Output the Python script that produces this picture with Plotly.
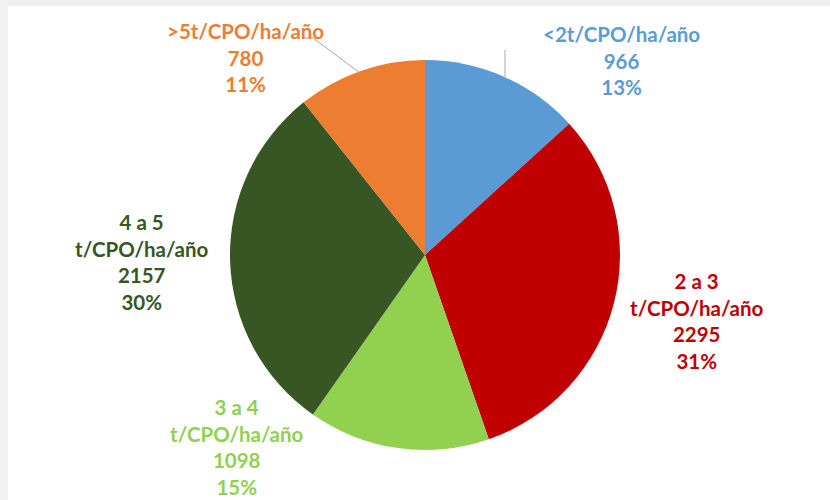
import plotly.graph_objects as go

categories = ["<2t/CPO/ha/año", "2 a 3 t/CPO/ha/año", "3 a 4 t/CPO/ha/año",
              "4 a 5 t/CPO/ha/año", ">5t/CPO/ha/año"]
values = [966, 2295, 1098, 2157, 780]
colors = ["#5B9BD5", "#C00000", "#92D050", "#375623", "#ED7D31"]

W, H = 830, 500
cx, cy, r = 425, 255, 195

fig = go.Figure(go.Pie(
    labels=categories, values=values, sort=False, direction="clockwise",
    rotation=0, textinfo="none", hoverinfo="label+value+percent",
    marker=dict(colors=colors, line=dict(width=0)),
    domain=dict(x=[(cx - r) / W, (cx + r) / W], y=[1 - (cy + r) / H, 1 - (cy - r) / H]),
    showlegend=False,
))

total = sum(values)
label_pos = [(621, 60), (697, 321), (237, 447), (142, 262), (245, 58)]
for cat, v, col, (px, py) in zip(categories, values, colors, label_pos):
    pct = round(v / total * 100)
    txt = cat.replace(" t/", "<br>t/") + f"<br>{v}<br>{pct}%"
    fig.add_annotation(x=px / W, y=1 - py / H, xref="paper", yref="paper",
                       text=f"<b>{txt}</b>", showarrow=False,
                       font=dict(family="Lato", size=20.5, color=col),
                       align="center", xanchor="center", yanchor="middle")

# leader lines
fig.add_shape(type="path", xref="paper", yref="paper",
              path=f"M {302/W} {1-38/H} L {313/W} {1-38/H} L {360/W} {1-73/H}",
              line=dict(color="#A6A6A6", width=1))
fig.add_shape(type="line", xref="paper", yref="paper",
              x0=505 / W, x1=505 / W, y0=1 - 50 / H, y1=1 - 79 / H,
              line=dict(color="#A6A6A6", width=1))
# frame bands
fig.add_shape(type="rect", xref="paper", yref="paper", x0=0, x1=1, y0=1 - 6 / H, y1=1,
              fillcolor="#EFEFEF", line=dict(width=0), layer="above")
fig.add_shape(type="rect", xref="paper", yref="paper", x0=0, x1=8 / W, y0=0, y1=1,
              fillcolor="#F1F1F1", line=dict(width=0), layer="above")

fig.update_layout(width=W, height=H, margin=dict(l=0, r=0, t=0, b=0),
                  paper_bgcolor="white", plot_bgcolor="white")
fig.write_html("out.html", config={"displayModeBar": False},
               post_script="document.body.style.margin='0';document.body.style.overflow='hidden';")
